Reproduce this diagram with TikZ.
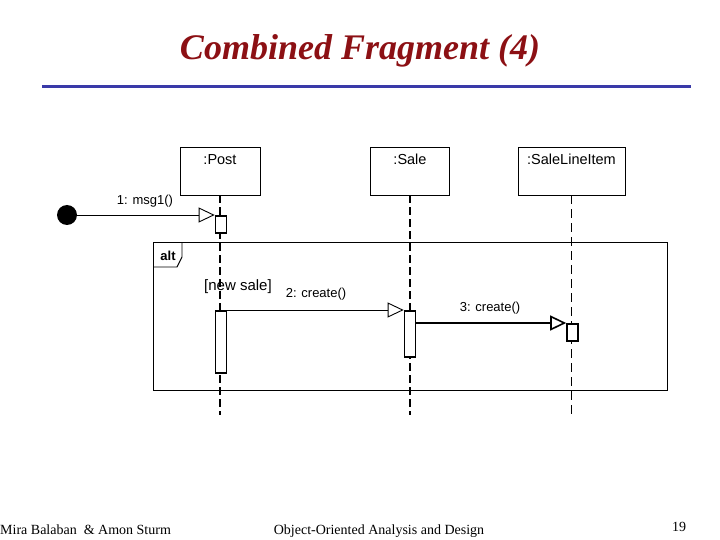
\documentclass[tikz,border=0pt]{standalone}
\usepackage{fontspec}
\setmainfont{Liberation Serif}
\setsansfont{Liberation Sans}
\usetikzlibrary{arrows.meta}
\definecolor{titlered}{RGB}{140,16,20}
\definecolor{rulebl}{RGB}{58,58,168}

\begin{document}
\begin{tikzpicture}[x=1pt, y=-1pt,
  objbox/.style={draw, line width=0.9pt, minimum width=#1, minimum height=48pt, inner sep=0pt},
  uml/.style={font=\sffamily\fontsize{13}{15}\selectfont, anchor=base, inner sep=0pt},
  objname/.style={uml, font=\sffamily\fontsize{14.5}{16}\selectfont},
  lifeline/.style={line width=1.8pt, dash pattern=on 8pt off 4pt},
  thinlife/.style={line width=0.9pt, dash pattern=on 9pt off 5pt},
  act/.style={draw, fill=white, line width=1.7pt, minimum width=11pt, minimum height=#1, inner sep=0pt, anchor=north},
  msg/.style={line width=0.9pt, -{Triangle[open, length=16pt, width=15pt]}},
  foot/.style={font=\fontsize{14}{16}\selectfont, anchor=base, inner sep=0pt}]
\useasboundingbox (0,0) rectangle (720,540);
% title and rule
\node[anchor=base, inner sep=0pt, text=titlered, font=\fontsize{36}{40}\selectfont\bfseries\itshape] (title) at (360,60) {Combined Fragment (4)};
\draw[rulebl, line width=3.5pt] (42,86.5) -- (691,86.5);
% alt frame
\draw[line width=0.9pt] (153,242) rectangle (667,390);
\draw[line width=0.9pt] (153,267) -- (177,267) -- (182,257) -- (182,242);
\node[uml, font=\sffamily\bfseries\fontsize{13}{15}\selectfont] (alt) at (168,260) {alt};
% objects and lifelines
\node[objbox=80pt] (post) at (220,171) {};
\node[objbox=79pt] (sale) at (410,171) {};
\node[objbox=107pt] (sli) at (571.5,171) {};
\node[objname] (postname) at (220,165) {:Post};
\node[objname] (salename) at (410,165) {:Sale};
\node[objname] (sliname) at (571.5,165) {:SaleLineItem};
\coordinate (postend) at (220,415);
\coordinate (saleend) at (410,415);
\coordinate (sliend) at (571.5,415);
\draw[lifeline] (post.south) -- (postend);
\draw[lifeline] (sale.south) -- (saleend);
\draw[thinlife] (sli.south) -- (sliend);
% activations
\node[act=17pt] (actpost1) at (221,215) {};
\node[act=62pt] (actpost2) at (221,310) {};
\node[act=46pt] (actsale) at (410,310) {};
\node[act=17pt] (actsli) at (572.5,323) {};
% messages
\node[circle, fill=black, minimum size=20pt, inner sep=0pt] (start) at (67,215) {};
\draw[msg] (start) -- (actpost1.north west);
\node[uml] (m1) at (145,205) {1: msg1()};
\node[uml, font=\sffamily\fontsize{15}{17}\selectfont] (guard) at (238,290) {[new sale]};
\draw[msg] (actpost2.north east) -- (actsale.north west);
\node[uml] (m2) at (316,297) {2: create()};
\draw[msg, line width=1.6pt] (actsale.north east |- actsli.north west) -- (actsli.north west);
\node[uml] (m3) at (490,311) {3: create()};
% footer
\node[foot, anchor=base west] (authors) at (0,534) {Mira Balaban\ \ \& Amon Sturm};
\node[foot] (course) at (379,534) {Object-Oriented Analysis and Design};
\node[foot] (page) at (679,531) {19};
\end{tikzpicture}
\end{document}
